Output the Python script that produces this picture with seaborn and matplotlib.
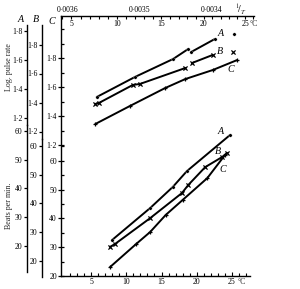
import numpy as np
import pandas as pd
import matplotlib
matplotlib.use("Agg")
import matplotlib.pyplot as plt
import seaborn as sns
from matplotlib.ticker import FixedLocator, FixedFormatter

sns.set_theme(style="white")
plt.rcParams["font.family"] = ["Liberation Serif", "DejaVu Serif"]
plt.rcParams["mathtext.fontset"] = "stix"

# ---------------- data ----------------
# upper panel: log pulse rate against 1/T
up_A_invT = [0.003560, 0.003507, 0.003454, 0.003433, 0.003429, 0.003396, 0.003369]
up_A_log = [1.345, 1.483, 1.607, 1.676, 1.655, 1.745, 1.779]
up_A_seg = [0, 0, 0, 0, 1, 1, 2]

up_B_invT = [0.003562, 0.003557, 0.003510, 0.003500, 0.003437, 0.003428, 0.003399, 0.003371]
up_B_log = [1.390, 1.397, 1.521, 1.528, 1.638, 1.672, 1.728, 1.748]
up_B_seg = [0, 0, 0, 0, 0, 1, 1, 2]

up_C_invT = [0.003562, 0.003514, 0.003465, 0.003437, 0.003399, 0.003365]
up_C_log = [1.345, 1.469, 1.593, 1.655, 1.717, 1.786]
up_C_seg = [0, 0, 0, 0, 0, 0]

# lower panel: beats per min against temperature (deg C)
lo_A_t = [8.0, 13.4, 16.6, 18.6, 24.7]
lo_A_b = [22.1, 33.2, 40.5, 46.0, 58.5]
lo_B_t = [7.7, 8.4, 13.4, 17.9, 18.8, 21.2, 23.6, 24.3]
lo_B_b = [24.9, 25.9, 34.9, 43.6, 46.4, 52.6, 56.1, 57.5]
lo_C_t = [7.7, 11.4, 13.4, 15.6, 18.0, 21.5, 24.0]
lo_C_b = [23.1, 31.1, 35.3, 41.2, 46.4, 54.0, 62.0]

log_ticks = [1.2, 1.4, 1.6, 1.8]
log_labels = ["1·2", "1·4", "1·6", "1·8"]
beat_ticks = [20, 30, 40, 50, 60]
beat_labels = ["20", "30", "40", "50", "60"]
temp_major = [5, 10, 15, 20, 25]
temp_labels = ["5", "10", "15", "20", "25"]
invT_ticks = [0.0036, 0.0035, 0.0034]
invT_labels = ["0·0036", "0·0035", "0·0034"]

# ---------------- layout (pixels) ----------------
W, H = 300, 289
L, R, T, B = 61, 254, 16, 276
fig = plt.figure(figsize=(W / 100, H / 100), dpi=100)
rect = [L / W, 1 - B / H, (R - L) / W, (B - T) / H]

# lower x scale: 5 C at x=91, 7.05 px per degree
px_deg = 7.05
t0 = 5 - (91 - L) / px_deg
t1 = t0 + (R - L) / px_deg
# upper x scale: 1/T=0.0036 at x=68, 72 px per 0.0001
px_inv = 72 / 0.0001
i0 = 0.0036 + (68 - L) / px_inv
i1 = 0.0036 - (R - 68) / px_inv

px_log = 145.0
px_beat = 2.88


def ylim_from(anchor_val, anchor_px, scale):
    top = anchor_val + (anchor_px - T) / scale
    bot = anchor_val - (B - anchor_px) / scale
    return bot, top


def val_at(anchor_val, anchor_px, scale, px):
    return anchor_val + (anchor_px - px) / scale


def mk(name):
    ax = fig.add_axes(rect, label=name)
    ax.set_facecolor("none")
    for s in ax.spines.values():
        s.set_visible(False)
    ax.tick_params(axis="both", which="both", bottom=False, top=False, left=False,
                   right=False, labelbottom=False, labeltop=False, labelleft=False,
                   labelright=False)
    ax.grid(False)
    return ax


FS = 5.6
LW = 1.4

anchors_up = {"A": 118, "B": 131.5, "C": 145}      # pixel of 1.2
anchors_lo = {"A": 246, "B": 261, "C": 276}        # pixel of 20
spine_x = {"A": 27, "B": 42}
spine_top = {"A": 25, "B": 25}
spine_bot = {"A": 272, "B": 277}
split = {"A": 125, "B": 139}

up_data = {"A": (up_A_invT, up_A_log, up_A_seg, "o"),
           "B": (up_B_invT, up_B_log, up_B_seg, "X"),
           "C": (up_C_invT, up_C_log, up_C_seg, "P")}
lo_data = {"A": (lo_A_t, lo_A_b, "o"),
           "B": (lo_B_t, lo_B_b, "X"),
           "C": (lo_C_t, lo_C_b, "P")}
mk_style = {"o": dict(marker="o", s=6),
            "X": dict(marker="x", s=9, linewidths=0.9),
            "P": dict(marker="+", s=12, linewidths=0.9)}

for key in ["C", "B", "A"]:
    # ---- upper axes ----
    au = mk("up" + key)
    au.set_xlim(i0, i1)
    au.set_ylim(*ylim_from(1.2, anchors_up[key], px_log))
    x, y, seg, m = up_data[key]
    df = pd.DataFrame({"x": x, "y": y, "seg": seg})
    sns.lineplot(data=df, x="x", y="y", units="seg", estimator=None, sort=False,
                 color="black", lw=LW, ax=au, legend=False)
    sns.scatterplot(data=df, x="x", y="y", color="black", ax=au, legend=False,
                    zorder=5, **mk_style[m])
    au.set_xlabel("")
    au.set_ylabel("")
    # ---- lower axes ----
    al = mk("lo" + key)
    al.set_xlim(t0, t1)
    al.set_ylim(*ylim_from(20, anchors_lo[key], px_beat))
    x, y, m = lo_data[key]
    df = pd.DataFrame({"x": x, "y": y})
    sns.lineplot(data=df, x="x", y="y", sort=False, estimator=None,
                 color="black", lw=LW, ax=al, legend=False)
    sns.scatterplot(data=df, x="x", y="y", color="black", ax=al, legend=False,
                    zorder=5, **mk_style[m])
    al.set_xlabel("")
    al.set_ylabel("")

    if key == "C":
        # main left spine
        al.spines["left"].set_visible(True)
        al.spines["left"].set_linewidth(1.0)
        al.spines["left"].set_color("black")
        for ax_, ticks, labels, minors in [
                (au, log_ticks, log_labels, [1.3, 1.5, 1.7, 1.9, 2.0]),
                (al, beat_ticks, beat_labels, [25, 35, 45, 55, 65])]:
            ax_.yaxis.set_major_locator(FixedLocator(ticks))
            ax_.yaxis.set_major_formatter(FixedFormatter(labels))
            ax_.yaxis.set_minor_locator(FixedLocator(minors))
            ax_.tick_params(axis="y", which="major", left=True, labelleft=True,
                            direction="inout", length=4, width=0.9, pad=1,
                            labelsize=FS, colors="black")
            ax_.tick_params(axis="y", which="minor", left=True, direction="in",
                            length=2.2, width=0.9, colors="black")
        # bottom temperature axis
        al.spines["bottom"].set_visible(True)
        al.spines["bottom"].set_color("black")
        al.spines["bottom"].set_linewidth(1.0)
        al.spines["bottom"].set_bounds(t0, 27.5)
        al.xaxis.set_major_locator(FixedLocator(temp_major))
        al.xaxis.set_major_formatter(FixedFormatter(temp_labels))
        al.xaxis.set_minor_locator(FixedLocator([t for t in range(2, 28) if t % 5]))
        al.tick_params(axis="x", which="major", bottom=True, labelbottom=True,
                       direction="in", length=3, width=0.8, pad=1.5,
                       labelsize=FS, colors="black")
        al.tick_params(axis="x", which="minor", bottom=True, direction="in",
                       length=2, width=0.8, colors="black")
        # top 1/T axis
        au.spines["top"].set_visible(True)
        au.spines["top"].set_color("black")
        au.spines["top"].set_linewidth(1.0)
        au.xaxis.set_major_locator(FixedLocator(invT_ticks))
        au.xaxis.set_major_formatter(FixedFormatter(invT_labels))
        tdeg = list(range(2, 28))
        au.xaxis.set_minor_locator(FixedLocator([1 / (273.15 + t) for t in tdeg]))
        au.xaxis.set_minor_formatter(FixedFormatter(
            [str(t) if t in temp_major else "" for t in tdeg]))
        au.tick_params(axis="x", which="major", top=True, labeltop=True,
                       direction="out", length=0, pad=1.5, labelsize=FS,
                       colors="black")
        au.tick_params(axis="x", which="minor", top=True, labeltop=True,
                       direction="in", length=2.2, width=0.8, pad=-9,
                       labelsize=FS, colors="black")
    else:
        pos = ("axes", (spine_x[key] - L) / (R - L))
        for ax_, ticks, labels, anc, sc, lims in [
                (au, log_ticks, log_labels, anchors_up[key], px_log,
                 (split[key], spine_top[key])),
                (al, beat_ticks, beat_labels, anchors_lo[key], px_beat,
                 (spine_bot[key], split[key]))]:
            base = 1.2 if ax_ is au else 20
            sp = ax_.spines["left"]
            sp.set_visible(True)
            sp.set_color("black")
            sp.set_linewidth(1.0)
            sp.set_position(pos)
            sp.set_bounds(val_at(base, anc, sc, lims[0]), val_at(base, anc, sc, lims[1]))
            ax_.yaxis.set_major_locator(FixedLocator(ticks))
            ax_.yaxis.set_major_formatter(FixedFormatter(labels))
            ax_.yaxis.set_minor_locator(FixedLocator([]))
            ax_.tick_params(axis="y", which="major", left=True, labelleft=True,
                            direction="out", length=2.5, width=0.9, pad=0.8,
                            labelsize=FS, colors="black")


def ftext(x, y, s, **kw):
    fig.text(x / W, 1 - y / H, s, **kw)


ital = dict(style="italic", fontsize=7.2, ha="center", va="center", color="black")
ftext(21, 20, "A", **ital)
ftext(36, 20, "B", **ital)
ftext(52, 21, "C", **ital)
# curve labels
ftext(221, 33, "A", **ital)
ftext(220, 51, "B", **ital)
ftext(231, 70, "C", **ital)
ftext(221, 132, "A", **ital)
ftext(218, 152, "B", **ital)
ftext(223, 169, "C", **ital)

ftext(9, 67, "Log. pulse rate", rotation=90, fontsize=5.8, ha="center", va="center")
ftext(9, 206, "Beats per min.", rotation=90, fontsize=5.8, ha="center", va="center")
ftext(250, 24, "°C", fontsize=FS, ha="left", va="center")
ftext(238, 282, "°C", fontsize=FS, ha="left", va="center")
ftext(241, 9, r"$^{1}\!/_{T}$", fontsize=7, ha="center", va="center")

fig.savefig("out.png", dpi=100)
